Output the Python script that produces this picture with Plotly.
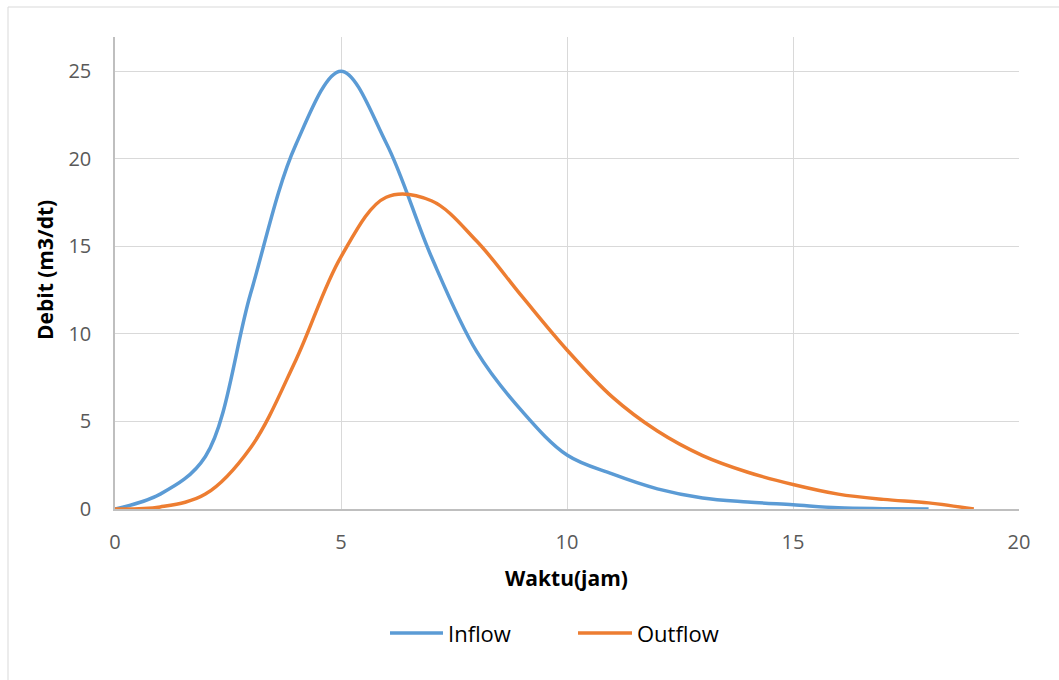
import plotly.graph_objects as go

# Data
time_inflow = [0, 1, 2, 3, 4, 5, 6, 7, 8, 9, 10, 11, 12, 13, 14, 15, 16, 17, 18]
inflow = [0, 0.85, 3.0, 12.3, 20.8, 25.0, 20.9, 14.4, 9.0, 5.6, 3.08, 2.0, 1.15, 0.63, 0.4, 0.24, 0.07, 0.02, 0]

time_outflow = [0, 1, 2, 3, 4, 5, 6, 7, 8, 9, 10, 11, 12, 13, 14, 15, 16, 17, 18, 19]
outflow = [0, 0.12, 0.85, 3.5, 8.5, 14.4, 17.8, 17.6, 15.3, 12.15, 9.08, 6.4, 4.45, 3.05, 2.1, 1.4, 0.85, 0.55, 0.35, 0]

x_ticks = [0, 5, 10, 15, 20]
y_ticks = [0, 5, 10, 15, 20, 25]

series_names = ["Inflow", "Outflow"]
colors = ["#5B9BD5", "#ED7D31"]

FONT = "Open Sans"

fig = go.Figure()
fig.add_trace(go.Scatter(x=time_inflow, y=inflow, mode="lines", name=series_names[0],
                         line=dict(color=colors[0], width=3.5, shape="spline", smoothing=1.0),
                         showlegend=False))
fig.add_trace(go.Scatter(x=time_outflow, y=outflow, mode="lines", name=series_names[1],
                         line=dict(color=colors[1], width=3.5, shape="spline", smoothing=1.0),
                         showlegend=False))

L, R, T, B = 115, 40, 37, 171
W, H = 1059, 680
pw, ph = W - L - R, H - T - B

def px(xp):
    return (xp - L) / pw

def py(yp):
    return (H - B - yp) / ph

fig.update_layout(
    width=W, height=H, autosize=False,
    margin=dict(l=L, r=R, t=T, b=B),
    paper_bgcolor="white", plot_bgcolor="white",
    font=dict(family=FONT, color="#595959"),
    xaxis=dict(range=[0, 20], tickvals=x_ticks, ticktext=[str(v) for v in x_ticks],
               showgrid=True, gridcolor="#D9D9D9", gridwidth=1,
               showline=True, linecolor="#BFBFBF", linewidth=1.5,
               zeroline=False, ticks="outside", ticklen=14, tickcolor="rgba(0,0,0,0)",
               tickfont=dict(size=20, color="#595959", family=FONT)),
    yaxis=dict(range=[0, 26.95], tickvals=y_ticks, ticktext=[str(v) for v in y_ticks],
               showgrid=True, gridcolor="#D9D9D9", gridwidth=1,
               showline=True, linecolor="#BFBFBF", linewidth=1.5,
               zeroline=False, ticks="outside", ticklen=18, tickcolor="rgba(0,0,0,0)",
               tickfont=dict(size=20, color="#595959", family=FONT)),
    shapes=[
        # outer chart border (top/left visible)
        dict(type="rect", xref="paper", yref="paper",
             x0=px(8), x1=px(1080), y0=py(700), y1=py(7),
             line=dict(color="#D9D9D9", width=1), fillcolor="rgba(0,0,0,0)", layer="below"),
        # legend line samples
        dict(type="line", xref="paper", yref="paper", x0=px(390), x1=px(443), y0=py(633), y1=py(633),
             line=dict(color=colors[0], width=3.5)),
        dict(type="line", xref="paper", yref="paper", x0=px(578), x1=px(632), y0=py(633), y1=py(633),
             line=dict(color=colors[1], width=3.5)),
    ],
    annotations=[
        dict(text="<b>Debit (m3/dt)</b>", xref="paper", yref="paper", x=px(45), y=py(270),
             textangle=-90, showarrow=False, xanchor="center", yanchor="middle",
             font=dict(size=21, color="#000000", family=FONT)),
        dict(text="<b>Waktu(jam)</b>", xref="paper", yref="paper", x=px(566), y=py(578),
             showarrow=False, xanchor="center", yanchor="middle",
             font=dict(size=21, color="#000000", family=FONT)),
        dict(text=series_names[0], xref="paper", yref="paper", x=px(446), y=py(633),
             showarrow=False, xanchor="left", yanchor="middle",
             font=dict(size=22, color="#000000", family=FONT)),
        dict(text=series_names[1], xref="paper", yref="paper", x=px(635), y=py(633),
             showarrow=False, xanchor="left", yanchor="middle",
             font=dict(size=22, color="#000000", family=FONT)),
    ],
)

fig.write_html("out.html")
